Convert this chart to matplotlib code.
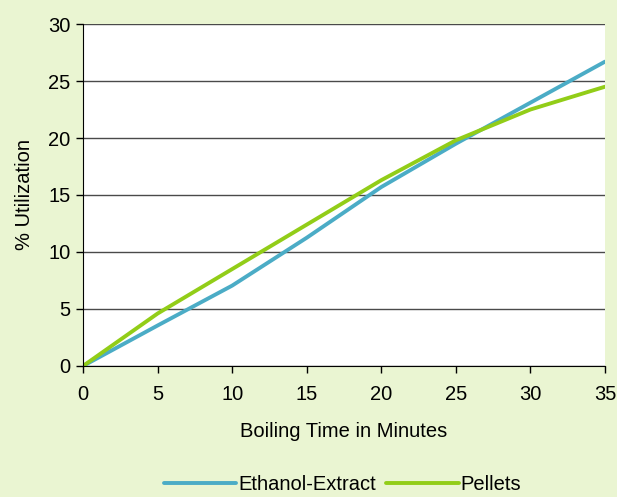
import matplotlib

matplotlib.use("Agg")
import matplotlib.pyplot as plt

plt.rcParams["font.family"] = ["Liberation Sans", "DejaVu Sans"]

minutes = [0, 5, 10, 15, 20, 25, 30, 35]
ethanol_extract = [0, 3.55, 7.05, 11.25, 15.7, 19.5, 23.1, 26.7]
pellets = [0, 4.6, 8.5, 12.4, 16.3, 19.8, 22.5, 24.5]

bg = "#EAF5D2"

fig = plt.figure(figsize=(6.17, 4.97), dpi=100, facecolor=bg)
ax = fig.add_axes([0.1345, 0.2636, 0.8461, 0.6881])
ax.set_facecolor("white")

ax.plot(minutes, ethanol_extract, color="#4BACC6", lw=2.8, label="Ethanol-Extract",
        solid_capstyle="round")
ax.plot(minutes, pellets, color="#92CD18", lw=2.8, label="Pellets",
        solid_capstyle="round")

ax.set_xlim(0, 35)
ax.set_ylim(0, 30)
ax.set_xticks(range(0, 36, 5))
ax.set_yticks(range(0, 31, 5))
ax.yaxis.grid(True, color="#4a4a4a", lw=1)
ax.set_axisbelow(True)

for side in ("top", "right"):
    ax.spines[side].set_visible(False)
ax.spines["left"].set_color("black")
ax.spines["bottom"].set_color("black")
ax.tick_params(axis="both", direction="out", length=5, width=1, labelsize=14.5,
               colors="black")
ax.tick_params(axis="x", pad=9)
ax.tick_params(axis="y", pad=4)

ax.set_xlabel("Boiling Time in Minutes", fontsize=14.5, labelpad=13)
ax.set_ylabel("% Utilization", fontsize=14.5, labelpad=10)

fig.legend(loc="center", bbox_to_anchor=(0.555, 0.026), ncol=2, frameon=False,
           fontsize=14.5, handlelength=3.6, handletextpad=0.1, columnspacing=0.5,
           borderpad=0.1)

fig.savefig("out.png", facecolor=bg)
